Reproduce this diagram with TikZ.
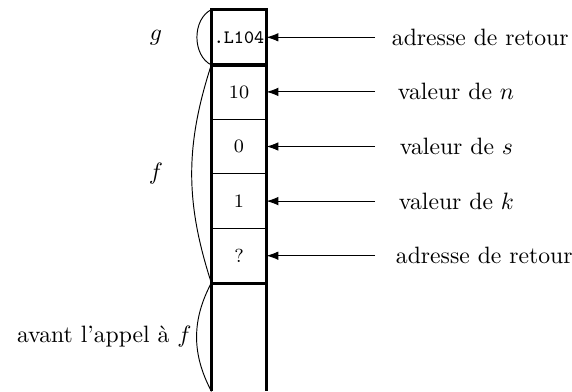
\documentclass[tikz,border=0pt]{standalone}
\usetikzlibrary{arrows.meta}
\begin{document}
\begin{tikzpicture}[x=0.4227pt,y=0.4227pt,
  cell/.style={draw, line width=0.4pt, inner sep=0pt, minimum width=22.83pt,
               minimum height=23.08pt, font=\footnotesize},
  frame/.style={line width=1.4pt},
  ptr/.style={-{Latex[length=5pt,width=3.6pt]}, line width=0.4pt},
  lbl/.style={anchor=west, inner sep=0pt},
  brace/.style={line width=0.4pt}]
\useasboundingbox (0,0) rectangle (572,-391);

% stack cells, top to bottom
\node[cell] (ret) at (239,-37.3)  {\texttt{.L104}};
\node[cell] (n)   at (239,-91.9)  {10};
\node[cell] (s)   at (239,-146.5) {0};
\node[cell] (k)   at (239,-201.1) {1};
\node[cell] (q)   at (239,-255.7) {?};
\node[inner sep=0pt, minimum width=22.83pt, minimum height=45.65pt] (old) at (239,-337) {};

% thick outline of the stack and frame boundaries
\draw[frame] (old.south west) -- (ret.north west) -- (ret.north east) -- (old.south east);
\draw[frame] (ret.south west) -- (ret.south east);
\draw[frame] (q.south west) -- (q.south east);

% brackets grouping the frames
\draw[brace] (ret.north west) to[bend right=64] (ret.south west);
\draw[brace] (n.north west) to[bend right=18] (q.south west);
\draw[brace] (old.north west) to[bend right=28] (old.south west);

\node (g) at (156,-37.3) {$g$};
\node (f) at (156,-174) {$f$};
\node[anchor=east, inner sep=0pt] (avant) at (192,-337) {avant l'appel à $f$};

% descriptions and their pointers
\coordinate (t1) at (375,-37.3);
\coordinate (t2) at (375,-91.9);
\coordinate (t3) at (375,-146.5);
\coordinate (t4) at (375,-201.1);
\coordinate (t5) at (375,-255.7);

\node[lbl] (d1) at (391.5,-37.3)  {adresse de retour};
\node[lbl] (d2) at (397.5,-91.9)  {valeur de $n$};
\node[lbl] (d3) at (399.5,-146.5) {valeur de $s$};
\node[lbl] (d4) at (398.5,-201.1) {valeur de $k$};
\node[lbl] (d5) at (395.5,-255.7) {adresse de retour};

\draw[ptr] (t1) -- (ret.east);
\draw[ptr] (t2) -- (n.east);
\draw[ptr] (t3) -- (s.east);
\draw[ptr] (t4) -- (k.east);
\draw[ptr] (t5) -- (q.east);
\end{tikzpicture}
\end{document}
